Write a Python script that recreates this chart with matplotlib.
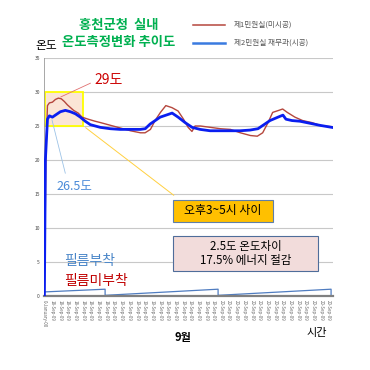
import matplotlib
matplotlib.use("Agg")
import matplotlib.pyplot as plt
from matplotlib.lines import Line2D
from matplotlib.patches import Rectangle
import numpy as np

plt.rcParams['font.family'] = ['Noto Sans CJK KR', 'DejaVu Sans']

# time axis in tick steps (38 tick labels, 0..37)
red_x = [0, 0.2, 0.4, 0.65, 1.04, 1.43, 1.82, 2.2, 2.6, 3.0, 3.4, 3.8, 4.4, 4.9, 5.7, 6.6,
         7.3, 8.6, 9.9, 11.2, 12.5, 13.1, 13.8, 14.4, 15.1, 15.8, 16.6, 17.4, 18.1, 18.7,
         19.2, 19.6, 20.3, 21.6, 22.9, 24.2, 25.5, 26.8, 27.7, 28.4, 29.1, 29.7, 30.5,
         31.0, 31.6, 32.6, 33.6, 34.8, 36.1, 37.4]
red_y = [0, 21, 28, 28.4, 28.5, 28.9, 29.1, 29.0, 28.6, 28.1, 27.7, 27.3, 26.9, 26.3,
         26.0, 25.7, 25.5, 25.1, 24.7, 24.3, 24.0, 24.0, 24.5, 25.8, 27.0, 28.0, 27.7,
         27.2, 26.0, 24.8, 24.2, 25.0, 25.0, 24.8, 24.6, 24.5, 24.0, 23.6, 23.5, 24.0,
         25.5, 27.0, 27.3, 27.5, 27.0, 26.3, 25.8, 25.5, 25.0, 24.9]

blue_x = [0, 0.13, 0.4, 0.65, 1.04, 1.43, 2.08, 2.73, 3.38, 4.03, 4.68, 5.32, 5.97,
          7.27, 8.57, 9.87, 11.17, 12.47, 13.12, 13.77, 14.42, 15.06, 15.84, 16.62,
          17.4, 18.31, 19.22, 20.26, 21.56, 22.86, 24.16, 25.45, 26.75, 27.79, 28.7,
          29.35, 30.39, 31.04, 31.43, 32.21, 33.25, 34.55, 35.84, 37.4]
blue_y = [0, 20, 26.0, 26.5, 26.3, 26.6, 27.1, 27.3, 27.1, 26.8, 26.3, 25.7, 25.2,
          24.8, 24.6, 24.5, 24.5, 24.5, 24.6, 25.3, 25.8, 26.3, 26.6, 26.9, 26.3, 25.5,
          24.8, 24.5, 24.3, 24.3, 24.3, 24.3, 24.4, 24.6, 25.3, 25.8, 26.3, 26.6, 26.0,
          25.8, 25.7, 25.4, 25.1, 24.8]

base_x = [0, 7.9, 7.9, 22.6, 22.6, 37.3, 37.3]
base_y = [0.6, 1.0, 0.1, 1.0, 0.1, 1.0, 0.0]

tick_labels = ['0-January-00'] + ['18-Sep-09'] * 8 + ['19-Sep-09'] * 14 + ['20-Sep-09'] * 15
yticks = [0, 5, 10, 15, 20, 25, 30, 35]

fig = plt.figure(figsize=(3.7, 3.7), dpi=100)
ax = fig.add_axes([44 / 370, 1 - 296 / 370, 289 / 370, 238 / 370])

for t in yticks[1:]:
    ax.axhline(t, color='#c8c8c8', lw=0.8, zorder=0)

ax.add_patch(Rectangle((0.13, 25), 4.95, 5, facecolor='#fbe5d6', edgecolor='#ffff00',
                       lw=1.3, zorder=1))

ax.plot(base_x, base_y, color='#4f7cc0', lw=0.9, zorder=2)
ax.plot(red_x, red_y, color='#b5473d', lw=1.0, zorder=3)
ax.plot(blue_x, blue_y, color='#0a1ef0', lw=2.0, zorder=4)

ax.set_xlim(-0.05, 37.55)
ax.set_ylim(0, 35)
ax.set_yticks(yticks)
ax.set_yticklabels([str(t) for t in yticks], fontsize=3.5, color='#444444')
ax.set_xticks(range(len(tick_labels)))
ax.set_xticklabels(tick_labels, rotation=-90, fontsize=3.2, color='#666666')
ax.tick_params(length=0, pad=3)
for s in ['top', 'right']:
    ax.spines[s].set_visible(False)
ax.spines['left'].set_color('#999999')
ax.spines['left'].set_linewidth(0.6)
ax.spines['bottom'].set_color('#808080')
ax.spines['bottom'].set_linewidth(1.6)

# annotations
ax.annotate('', xy=(1.8, 29.1), xytext=(93, 370 - 82), textcoords='figure pixels',
            arrowprops=dict(arrowstyle='-', color='#e07070', lw=0.6))
fig.text(94 / 370, 1 - 80 / 370, '29도', color='#cc0000', fontsize=10, va='center')
ax.annotate('', xy=(0.9, 26.3), xytext=(66, 370 - 176), textcoords='figure pixels',
            arrowprops=dict(arrowstyle='-', color='#9dc3e6', lw=0.6))
fig.text(56 / 370, 1 - 187 / 370, '26.5도', color='#4a8ad8', fontsize=9, va='center')
ax.annotate('', xy=(5.08, 25), xytext=(176, 370 - 197), textcoords='figure pixels',
            arrowprops=dict(arrowstyle='-', color='#ffd040', lw=0.7))

fig.add_artist(Rectangle((173 / 370, 1 - 222 / 370), 100 / 370, 22 / 370,
                         facecolor='#ffc000', edgecolor='#5f7fa8', lw=0.8,
                         transform=fig.transFigure))
fig.text(223 / 370, 1 - 211 / 370, '오후3~5시 사이', fontsize=8.6, ha='center', va='center')
fig.add_artist(Rectangle((173 / 370, 1 - 271 / 370), 145 / 370, 35 / 370,
                         facecolor='#f2dcdb', edgecolor='#4f6d9a', lw=0.8,
                         transform=fig.transFigure))
fig.text(245.5 / 370, 1 - 253.5 / 370, '2.5도 온도차이\n17.5% 에너지 절감', fontsize=8.3,
         ha='center', va='center', linespacing=1.15)

fig.text(64 / 370, 1 - 261 / 370, '필름부착', color='#4a86c8', fontsize=10, va='center')
fig.text(64 / 370, 1 - 281 / 370, '필름미부착', color='#c00000', fontsize=10, va='center')

fig.text(119 / 370, 1 - 25 / 370, '홍천군청  실내', color='#00b050', fontsize=9.6,
         fontweight='bold', ha='center', va='center')
fig.text(119 / 370, 1 - 42 / 370, '온도측정변화 추이도', color='#00b050', fontsize=9.6,
         fontweight='bold', ha='center', va='center')
fig.text(46 / 370, 1 - 46 / 370, '온도', fontsize=8.5, ha='center', va='center')
fig.text(183 / 370, 1 - 338 / 370, '9월', fontsize=8, fontweight='bold', ha='center', va='center')
fig.text(317 / 370, 1 - 333 / 370, '시간', fontsize=8, ha='center', va='center')

# legend
fig.add_artist(Line2D([193 / 370, 225 / 370], [1 - 25 / 370] * 2, color='#b5473d', lw=1.1))
fig.add_artist(Line2D([193 / 370, 225 / 370], [1 - 43 / 370] * 2, color='#3a7be0', lw=1.8))
fig.text(234 / 370, 1 - 25 / 370, '제1민원실(미시공)', fontsize=5.5, color='#555555', va='center')
fig.text(234 / 370, 1 - 43 / 370, '제2민원실 재무과(시공)', fontsize=5.5, color='#555555', va='center')

fig.savefig('out.png', dpi=100)
